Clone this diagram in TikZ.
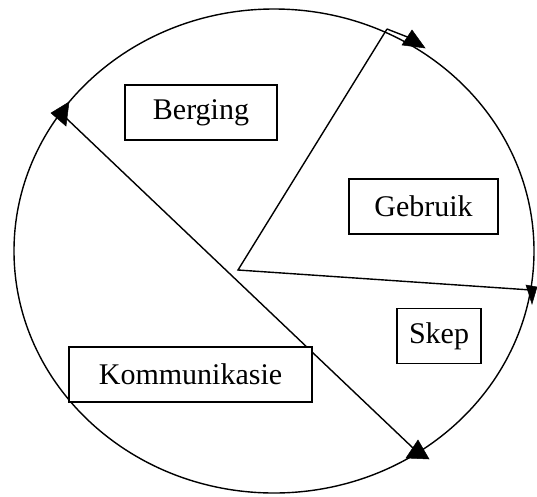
\documentclass[tikz,border=0pt]{standalone}
\usepackage{fontspec}
\setmainfont{Liberation Serif}
\begin{document}
\begin{tikzpicture}[x=1pt,y=-1pt,
  line/.style={line width=1.4pt, black},
  lbl/.style={draw, line width=1.4pt, fill=white, inner sep=0pt,
    minimum height=55pt, font=\fontsize{30}{36}\selectfont},
  head/.style={fill=black, draw=black, line width=0.5pt}]
\useasboundingbox (0,0) rectangle (537,496);
% circle
\draw[line] (274,251) ellipse [x radius=260, y radius=242];
% coordinates
\coordinate (C) at (238,270);
\coordinate (T) at (387,29);
\coordinate (T2) at (410,38);
\coordinate (R) at (531,290);
\coordinate (D1) at (66,118);
\coordinate (D2) at (413,448);
% wedge
\draw[line] (T) -- (C) -- (R);
\draw[line] (T) -- (T2);
% diagonal
\draw[line] (D1) -- (D2);
% arrowheads
\fill[head] (412,30) -- (402,45) -- (425,48) -- cycle;
\fill[head] (51,113) -- (69,102) -- (66,126) -- cycle;
\fill[head] (418,440) -- (406,458) -- (429,459) -- cycle;
\fill[head] (526,285) -- (537,287) -- (532,304) -- cycle;
% labels
\node[lbl, minimum width=152pt] (berging) at (201,112.5) {Berging};
\node[lbl, minimum width=149pt] (gebruik) at (423.5,206.5) {Gebruik};
\node[lbl, minimum width=84pt] (skep) at (439,336) {Skep};
\node[lbl, minimum width=243pt] (komm) at (190.5,374.5) {Kommunikasie};
\end{tikzpicture}
\end{document}
